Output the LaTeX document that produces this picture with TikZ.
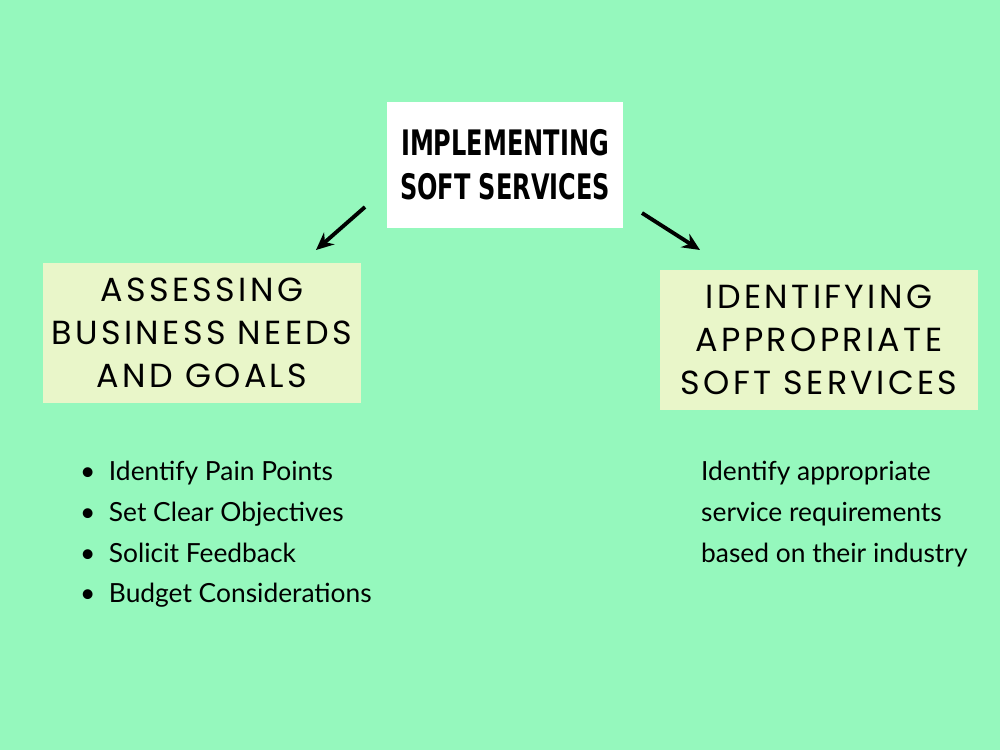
\documentclass[tikz,border=0pt]{standalone}
\usepackage{fontspec}
\setmainfont{Lato}
\newfontfamily\headfont{Poppins}[LetterSpace=10]
\newfontfamily\titlefont{DejaVu Sans Condensed}[FakeStretch=0.76]
\usetikzlibrary{arrows.meta,positioning}
\definecolor{mint}{HTML}{95F8BD}
\definecolor{pale}{HTML}{E9F6C9}
\tikzset{
	x=0.02cm, y=-0.02cm,
	headbox/.style={fill=pale, minimum width=318*0.02cm, minimum height=140*0.02cm,
		align=center, font=\headfont\fontsize{19}{24.5}\selectfont},
	pointer/.style={-{Stealth[length=10pt,width=9pt]}, line width=2.2pt},
	plain text/.style={anchor=north west, align=left, font=\fontsize{15}{23.2}\selectfont}
}
\begin{document}
\begin{tikzpicture}
	\fill[mint] (0,0) rectangle (1000,750);
	\node [fill=white, minimum width=236*0.02cm, minimum height=125*0.02cm, align=center,
		font=\titlefont\bfseries\fontsize{20}{25}\selectfont] (title) at (505,165)
		{IMPLEMENTING\\SOFT SERVICES};
	\node [headbox] (assess) at (202,333) {ASSESSING\\BUSINESS NEEDS\\AND GOALS};
	\node [headbox] (ident) at (819,340) {IDENTIFYING\\APPROPRIATE\\SOFT SERVICES};
	\coordinate (la) at (365,207);
	\coordinate (lb) at (316,250);
	\coordinate (ra) at (642,213);
	\coordinate (rb) at (700,250);
	\draw [pointer] (la) -- (lb);
	\draw [pointer] (ra) -- (rb);
	\node [plain text] (points) at (74,455)
		{\textbullet\ \ Identify Pain Points\\
		 \textbullet\ \ Set Clear Objectives\\
		 \textbullet\ \ Solicit Feedback\\
		 \textbullet\ \ Budget Considerations};
	\node [plain text] (req) at (695,455)
		{Identify appropriate\\service requirements\\based on their industry};
\end{tikzpicture}
\end{document}
